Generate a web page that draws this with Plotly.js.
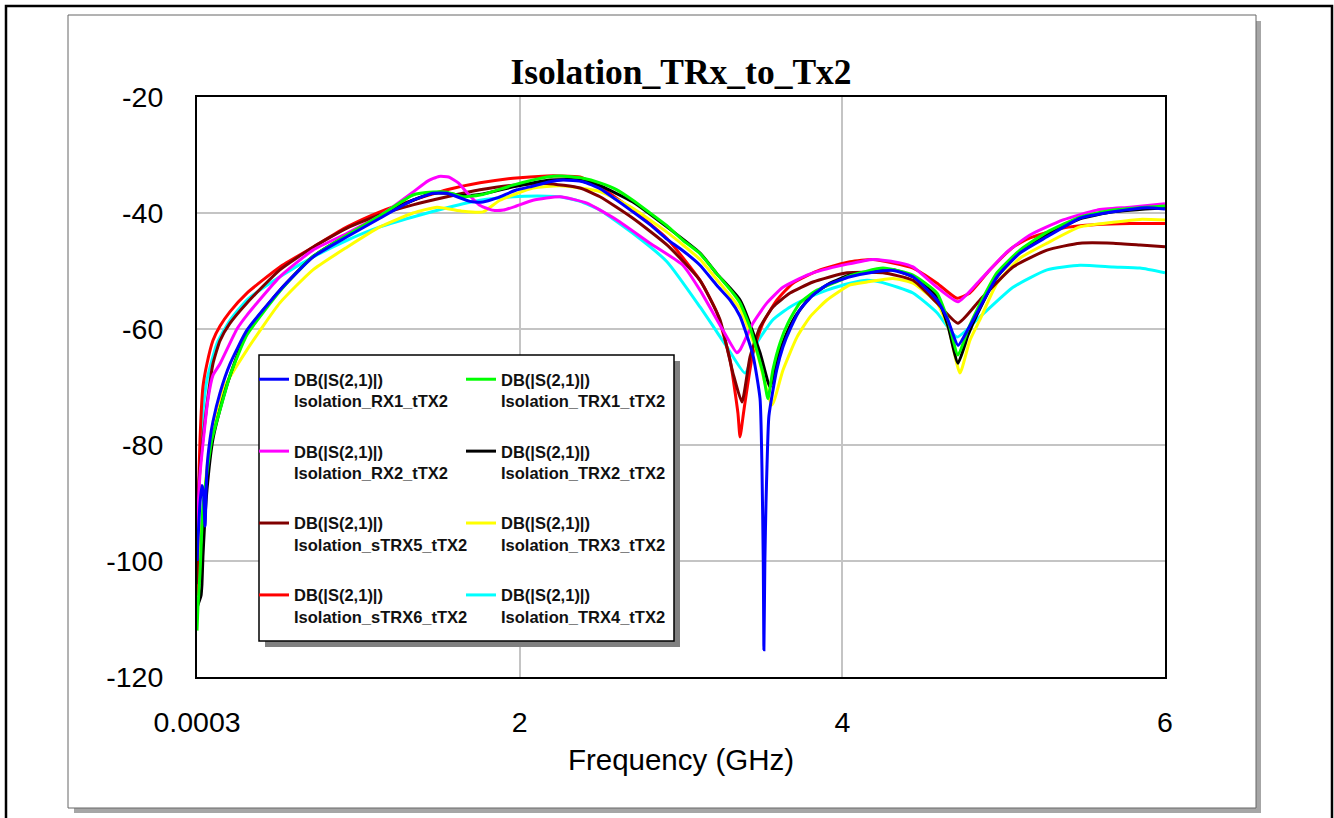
<!DOCTYPE html>
<html>
<head>
<meta charset="utf-8">
<script src="https://cdn.plot.ly/plotly-3.0.1.min.js"></script>
<style>
html,body{margin:0;padding:0;background:#fff;}
#chart{width:1334px;height:818px;}
</style>
</head>
<body>
<div id="chart"></div>
<script>
// ---------- data (frequency in GHz, value in dB) ----------
const xTickVals = [0.0003, 2, 4, 6];
const xTickText = ['0.0003', '2', '4', '6'];
const yTickVals = [-120, -100, -80, -60, -40, -20];
const yTickText = ['-120', '-100', '-80', '-60', '-40', '-20'];
const legendLine1 = 'DB(|S(2,1)|)';

const fRX1 = [0.0003,0.019,0.031,0.04,0.05,0.062,0.081,0.099,0.143,0.205,0.31,0.514,0.719,0.93,1.134,1.339,1.463,1.55,1.692,1.773,1.859,1.983,2.064,2.188,2.269,2.393,2.498,2.603,2.702,2.808,2.913,3.012,3.118,3.223,3.304,3.366,3.446,3.49,3.502,3.51,3.514,3.52,3.527,3.533,3.545,3.593,3.632,3.68,3.737,3.82,3.905,4.048,4.19,4.314,4.438,4.587,4.655,4.717,4.78,4.835,4.959,5.101,5.269,5.473,5.678,5.888,6.0];
const dbRX1 = [-100,-90,-87,-88,-94,-84,-79,-76,-71,-66,-60.2,-53.3,-47.6,-44.1,-40.9,-37.8,-36.6,-36.6,-38.0,-38.1,-37.4,-36.0,-35.5,-34.6,-34.3,-34.6,-35.8,-37.8,-39.8,-42.0,-44.5,-46.5,-49,-52.5,-55,-57.8,-64.5,-72,-84,-100,-115.3,-100,-90,-83.8,-75,-67.1,-63.1,-59.8,-56.7,-54.1,-52.4,-51.0,-50.2,-49.9,-51.0,-55.0,-58.5,-62.8,-60,-57.2,-51,-46.9,-44.1,-40.9,-39.8,-39.1,-39.3];

const fTRX1 = [0.0003,0.006,0.019,0.037,0.062,0.093,0.161,0.205,0.31,0.514,0.719,0.93,1.134,1.339,1.463,1.55,1.649,1.773,1.959,2.169,2.25,2.393,2.498,2.603,2.702,2.808,2.913,3.012,3.118,3.223,3.322,3.366,3.428,3.508,3.539,3.57,3.614,3.663,3.737,3.843,3.985,4.048,4.252,4.438,4.587,4.655,4.717,4.78,4.835,4.959,5.101,5.269,5.473,5.678,6.0];
const dbTRX1 = [-112,-108,-102,-90.7,-84.8,-79,-72.2,-68,-61,-53.5,-47.5,-43.8,-40.5,-36.9,-36.4,-36.4,-37.2,-36.8,-35.2,-33.8,-33.6,-34.0,-34.8,-36.0,-37.8,-40,-42.2,-44.7,-47,-50.5,-53.8,-55.5,-59.7,-67.6,-72.0,-67,-62.4,-59,-55.5,-53.3,-51.6,-50.8,-49.5,-50.7,-53.8,-58.5,-64.5,-60,-56.7,-50.3,-46.4,-43.3,-40.7,-39.5,-38.8];

const fRX2 = [0.0003,0.019,0.068,0.099,0.143,0.248,0.31,0.514,0.719,0.93,1.134,1.339,1.43,1.5,1.56,1.62,1.674,1.75,1.83,1.9,1.98,2.083,2.25,2.417,2.603,2.808,3.012,3.118,3.26,3.347,3.366,3.446,3.533,3.632,3.781,3.88,4.19,4.357,4.438,4.587,4.717,4.853,5.021,5.163,5.368,5.578,5.783,6.0];
const dbRX2 = [-95,-85,-72.2,-68,-66,-60,-57.6,-51,-46.4,-43.5,-40.5,-36.4,-34.5,-33.7,-33.8,-34.8,-36.5,-38.6,-39.5,-39.5,-38.8,-37.8,-37.2,-38.3,-41.2,-45.2,-49,-53.3,-60.2,-64.1,-63.6,-59,-55.5,-52.8,-50.7,-49.8,-48,-48.6,-49.3,-52.8,-55.3,-51.6,-46.7,-43.8,-41.2,-39.5,-39,-38.4];

const fTRX2 = [0.0003,0.025,0.031,0.037,0.062,0.099,0.161,0.205,0.31,0.514,0.719,0.93,1.134,1.339,1.463,1.55,1.649,1.773,1.959,2.188,2.393,2.498,2.702,2.913,3.118,3.223,3.366,3.49,3.552,3.595,3.645,3.707,3.8,3.924,4.048,4.314,4.438,4.587,4.655,4.717,4.78,4.835,4.959,5.101,5.269,5.473,5.678,6.0];
const dbTRX2 = [-108,-106,-104,-99.3,-87.8,-79,-72,-68,-60.5,-53.3,-47.5,-43.8,-40.5,-37.8,-36.6,-36.6,-37.0,-36.7,-35.5,-34.3,-34.3,-35.3,-38.1,-42.4,-46.9,-50.5,-55,-64.1,-70,-65.3,-61.4,-57.9,-54.5,-52.1,-50.7,-49.8,-51.0,-54.5,-59.5,-65.9,-61,-57.5,-51,-46.8,-43.8,-41,-39.8,-39.1];

const fsTRX5 = [0.0003,0.006,0.019,0.037,0.062,0.099,0.143,0.205,0.31,0.514,0.719,0.93,1.134,1.339,1.55,1.754,1.959,2.169,2.374,2.498,2.702,2.913,3.118,3.242,3.322,3.378,3.428,3.49,3.57,3.676,3.818,4.029,4.252,4.438,4.587,4.717,4.853,5.058,5.269,5.473,5.678,5.845,6.0];
const dbsTRX5 = [-104,-91,-84,-79,-73,-66,-62,-59,-55.5,-49.8,-45.9,-42.6,-40.3,-38.6,-37.2,-36,-35.2,-34.9,-35.7,-37.2,-40.9,-45.5,-51.6,-58.4,-67.6,-72.6,-64.8,-59.7,-56.2,-53.8,-51.9,-50.3,-50.3,-51.6,-55.5,-59,-55,-49.3,-46.4,-45.2,-45.2,-45.5,-45.8];

const fTRX3 = [0.0003,0.02,0.037,0.062,0.099,0.161,0.31,0.514,0.719,0.93,1.134,1.339,1.488,1.649,1.774,1.878,2.083,2.25,2.498,2.702,2.913,3.118,3.223,3.366,3.471,3.564,3.632,3.719,3.8,3.905,4.048,4.153,4.314,4.438,4.587,4.66,4.729,4.79,4.853,4.959,5.101,5.269,5.473,5.678,5.845,6.0];
const dbTRX3 = [-100,-96,-92,-84,-77,-70.5,-63.6,-55.5,-49.8,-45.9,-42.4,-40,-39,-39.7,-39.8,-37.8,-35.7,-35.3,-36.3,-39.2,-43.3,-48.0,-51.5,-56.5,-64,-73.1,-67.1,-61.4,-57.9,-55,-52.4,-51.9,-51.3,-52.1,-55.5,-60,-67.6,-62,-58.4,-52.1,-47.8,-45.2,-42.4,-41.6,-41.1,-41.2];

const fsTRX6 = [0.0003,0.01,0.019,0.037,0.062,0.099,0.143,0.205,0.31,0.514,0.719,0.93,1.134,1.339,1.55,1.754,1.959,2.169,2.25,2.374,2.498,2.702,2.913,3.118,3.223,3.304,3.353,3.366,3.39,3.446,3.508,3.595,3.694,3.862,4.048,4.19,4.438,4.587,4.711,4.79,4.915,5.058,5.163,5.368,5.578,5.783,6.0];
const dbsTRX6 = [-106,-88,-79,-70,-66,-62,-59.5,-57,-53.8,-49.3,-45.9,-42.4,-39.8,-37.8,-36.0,-34.8,-34.0,-33.6,-33.6,-33.8,-35.5,-39.5,-44.4,-51.6,-57.2,-65.3,-74.5,-78.6,-74,-64.1,-59,-55,-52.1,-49.8,-48.4,-48,-49.5,-52.1,-54.7,-53.8,-49.8,-45.9,-44.3,-42.6,-42.0,-41.8,-41.8];

const fTRX4 = [0.0003,0.006,0.031,0.062,0.124,0.205,0.31,0.514,0.719,0.93,1.134,1.339,1.55,1.754,1.959,2.169,2.25,2.374,2.498,2.702,2.913,3.118,3.285,3.397,3.471,3.57,3.676,3.781,3.905,4.048,4.153,4.25,4.438,4.587,4.711,4.853,5.058,5.269,5.473,5.678,5.845,6.0];
const dbTRX4 = [-95,-90.7,-76.2,-68.8,-62.5,-58.5,-55,-51,-47.6,-44.7,-42.4,-40.7,-39.1,-37.8,-37.2,-37.1,-37.2,-38,-39.5,-43.5,-48.4,-56.2,-63.1,-67.6,-62.4,-58.4,-56.2,-54.7,-53.3,-52.1,-51.6,-52,-53.8,-57.2,-61.4,-57.9,-52.8,-49.8,-49,-49.3,-49.5,-50.3];

// series definitions
const seriesNames  = ['Isolation_RX1_tTX2','Isolation_TRX1_tTX2','Isolation_RX2_tTX2','Isolation_TRX2_tTX2','Isolation_sTRX5_tTX2','Isolation_TRX3_tTX2','Isolation_sTRX6_tTX2','Isolation_TRX4_tTX2'];
const seriesColors = ['#0000ff','#00ff00','#ff00ff','#000000','#800000','#ffff00','#ff0000','#00ffff'];
const seriesX = [fRX1,fTRX1,fRX2,fTRX2,fsTRX5,fTRX3,fsTRX6,fTRX4];
const seriesY = [dbRX1,dbTRX1,dbRX2,dbTRX2,dbsTRX5,dbTRX3,dbsTRX6,dbTRX4];

// ---------- layout helpers ----------
const W = 1334, H = 818;
const PL = 197, PR = 1165, PT = 97, PB = 677;
const xp = px => (px - PL) / (PR - PL);
const yp = py => (PB - py) / (PB - PT);

const traces = [];
for (let i = seriesNames.length - 1; i >= 0; i--) {
  traces.push({
    type: 'scatter', mode: 'lines',
    x: seriesX[i], y: seriesY[i],
    name: legendLine1 + '<br>' + seriesNames[i],
    line: {color: seriesColors[i], width: 3, shape: 'spline', smoothing: 0.5},
    legend: (i % 2 === 0) ? 'legend' : 'legend2',
    legendgroup: 'g' + i,
    legendrank: Math.floor(i / 2) + 1,
    hoverinfo: 'x+y+name'
  });
}

const legendCommon = {
  bgcolor: 'rgba(0,0,0,0)', borderwidth: 0,
  font: {family: 'Liberation Sans, Arial, sans-serif', size: 16.5, color: '#111', weight: 'bold'},
  xanchor: 'left', yanchor: 'top', valign: 'top',
  tracegroupgap: 26, traceorder: 'grouped', itemwidth: 30
};

const tickFont = {family: 'Liberation Sans, Arial, sans-serif', size: 28.5, color: '#000'};
const titleFont = {family: 'Liberation Sans, Arial, sans-serif', size: 29.5, color: '#000'};

const layout = {
  width: W, height: H,
  margin: {l: PL, r: W - PR, t: PT, b: H - PB},
  paper_bgcolor: '#ffffff', plot_bgcolor: '#ffffff',
  showlegend: true,
  title: {
    text: 'Isolation_TRx_to_Tx2',
    font: {family: 'Liberation Serif, Times New Roman, serif', size: 35.5, color: '#000', weight: 'bold'},
    xref: 'paper', x: 0.5, xanchor: 'center',
    yref: 'container', y: 1 - 72 / H, yanchor: 'middle'
  },
  xaxis: {
    range: [0.0003, 6], tickvals: xTickVals, ticktext: xTickText,
    showgrid: true, gridcolor: '#c4c4c4', gridwidth: 2,
    showline: true, linecolor: '#000', linewidth: 2, mirror: true,
    zeroline: false, ticks: '', ticklabelstandoff: 19,
    tickfont: tickFont,
    title: {text: 'Frequency (GHz)', standoff: 12, font: titleFont},
    automargin: false
  },
  yaxis: {
    range: [-120, -20], tickvals: yTickVals, ticktext: yTickText,
    showgrid: true, gridcolor: '#c4c4c4', gridwidth: 2,
    showline: true, linecolor: '#000', linewidth: 2, mirror: true,
    zeroline: false, ticks: '', ticklabelstandoff: 26,
    tickfont: tickFont,
    automargin: false
  },
  legend: Object.assign({}, legendCommon, {x: xp(254), y: yp(362)}),
  legend2: Object.assign({}, legendCommon, {x: xp(461), y: yp(362)}),
  shapes: [
    {type: 'rect', xref: 'paper', yref: 'paper', layer: 'below',
     x0: xp(6), x1: xp(1332), y0: yp(6), y1: yp(860),
     line: {color: '#000', width: 2.5}, fillcolor: 'rgba(0,0,0,0)'},
    {type: 'rect', xref: 'paper', yref: 'paper', layer: 'below',
     x0: xp(74), x1: xp(1261), y0: yp(21), y1: yp(813),
     line: {width: 0}, fillcolor: '#a6a6a6'},
    {type: 'rect', xref: 'paper', yref: 'paper', layer: 'below',
     x0: xp(68), x1: xp(1256), y0: yp(15), y1: yp(808),
     line: {color: '#666', width: 1}, fillcolor: '#ffffff'},
    {type: 'rect', xref: 'paper', yref: 'paper', layer: 'above',
     x0: xp(265), x1: xp(680), y0: yp(361), y1: yp(647),
     line: {width: 0}, fillcolor: '#808080'},
    {type: 'rect', xref: 'paper', yref: 'paper', layer: 'above',
     x0: xp(259), x1: xp(674), y0: yp(355), y1: yp(641),
     line: {color: '#000', width: 1.5}, fillcolor: '#ffffff'}
  ]
};

Plotly.newPlot('chart', traces, layout, {displayModeBar: false, responsive: false});
</script>
</body>
</html>
